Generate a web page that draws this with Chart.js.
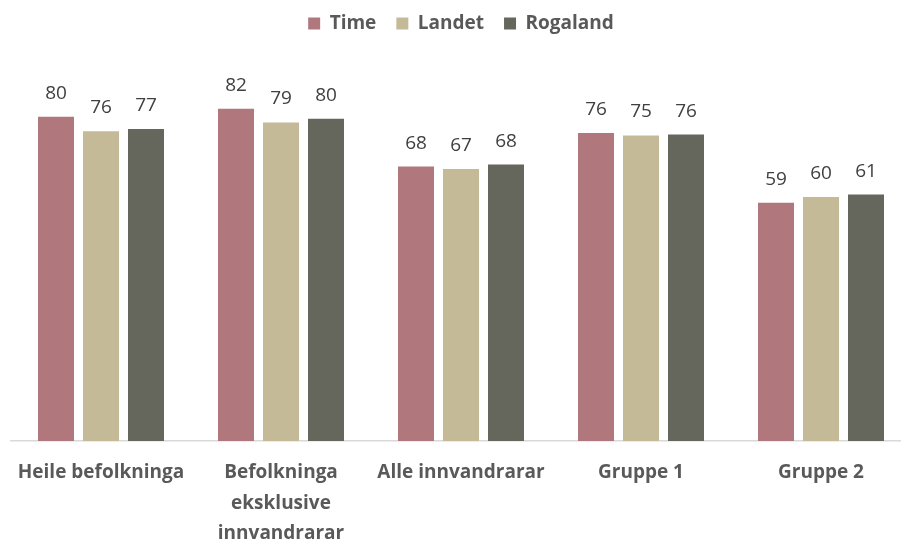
<!DOCTYPE html>
<html>
<head>
<meta charset="utf-8">
<script src="https://cdn.jsdelivr.net/npm/chart.js@4.4.1/dist/chart.umd.min.js"></script>
<style>
  html, body { margin: 0; padding: 0; background: #fff; }
  #clip { width: 901px; height: 539px; overflow: hidden; }
  #wrap { width: 921px; height: 539px; position: relative; }
</style>
</head>
<body>
<div id="clip"><div id="wrap"><canvas id="chart"></canvas></div></div>
<script>
const categories = [
  'Heile befolkninga',
  ['Befolkninga', 'eksklusive', 'innvandrarar'],
  'Alle innvandrarar',
  'Gruppe 1',
  'Gruppe 2'
];
const seriesNames = ['Time', 'Landet', 'Rogaland'];
const timeValues = [80.0, 82.0, 67.7, 76.0, 58.8];
const landetValues = [76.4, 78.6, 67.1, 75.4, 60.2];
const rogalandValues = [77.0, 79.5, 68.2, 75.6, 60.8];
const colors = ['#B0787C', '#C4BA97', '#65675D'];

// value labels above each bar
const barLabels = {
  id: 'barLabels',
  afterDatasetsDraw(chart) {
    const ctx = chart.ctx;
    ctx.save();
    ctx.font = '19px "Open Sans"';
    ctx.fillStyle = '#404040';
    ctx.textAlign = 'center';
    ctx.textBaseline = 'alphabetic';
    chart.data.datasets.forEach(function(ds, i) {
      chart.getDatasetMeta(i).data.forEach(function(bar, j) {
        ctx.fillText(Math.round(ds.data[j]).toString(), bar.x, bar.y - 18);
      });
    });
    ctx.restore();
  }
};

const ctx = document.getElementById('chart').getContext('2d');
const chart = new Chart(ctx, {
  type: 'bar',
  data: {
    labels: categories,
    datasets: [
      { label: seriesNames[0], data: timeValues, backgroundColor: colors[0] },
      { label: seriesNames[1], data: landetValues, backgroundColor: colors[1] },
      { label: seriesNames[2], data: rogalandValues, backgroundColor: colors[2] }
    ]
  },
  options: {
    responsive: true,
    maintainAspectRatio: false,
    animation: false,
    categoryPercentage: 0.75,
    barPercentage: 0.8,
    layout: { padding: { left: 11, right: 10, top: -6 } },
    plugins: {
      legend: {
        position: 'top',
        labels: {
          boxWidth: 12,
          boxHeight: 12,
          padding: 20,
          color: '#595959',
          font: { family: '"Open Sans"', size: 19, weight: 'bold' }
        }
      },
      tooltip: { enabled: false }
    },
    scales: {
      x: {
        grid: { display: false, drawTicks: false },
        border: { display: true, color: '#D9D9D9', width: 1.5 },
        ticks: {
          color: '#595959',
          padding: 16,
          maxRotation: 0,
          autoSkip: false,
          font: { family: '"Open Sans"', size: 19, weight: 'bold', lineHeight: 1.62 }
        },
        afterFit: function(scale) { scale.height = 98; }
      },
      y: {
        display: false,
        min: 0,
        max: 98.2
      }
    }
  },
  plugins: [barLabels]
});
</script>
</body>
</html>
